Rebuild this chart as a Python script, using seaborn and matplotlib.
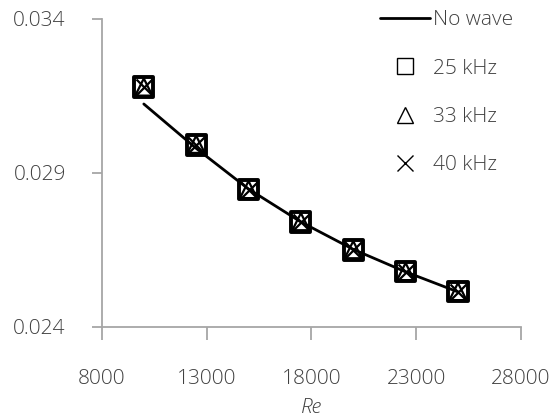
import matplotlib
matplotlib.use("Agg")
import matplotlib.pyplot as plt
from matplotlib.lines import Line2D
import seaborn as sns
import pandas as pd

# Reynolds numbers and friction factors
re_vals = [10000, 12500, 15000, 17500, 20000, 22500, 25000]
f_no_wave = [0.03124, 0.02980, 0.02848, 0.02741, 0.02652, 0.02579, 0.02514]
f_25khz = [0.03179, 0.02991, 0.02845, 0.02741, 0.02650, 0.02579, 0.02514]
f_33khz = [0.03179, 0.02993, 0.02846, 0.02742, 0.02651, 0.02580, 0.02515]
f_40khz = [0.03178, 0.02991, 0.02845, 0.02740, 0.02650, 0.02578, 0.02513]

x_ticks = [8000, 13000, 18000, 23000, 28000]
y_ticks = [0.024, 0.029, 0.034]
y_labels = ["0.024", "0.029", "0.034"]

sns.set_theme(style="white")
plt.rcParams["font.family"] = ["Open Sans", "DejaVu Sans"]

text_col = "#404040"
axis_col = "#a6a6a6"
fs = 15

fig = plt.figure(figsize=(5.57, 4.19), dpi=100)
ax = fig.add_axes([0.183, 0.2196, 0.752, 0.7351])

df_line = pd.DataFrame({"Re": re_vals, "f": f_no_wave})
sns.lineplot(data=df_line, x="Re", y="f", color="black", linewidth=2.0, ax=ax)

ms = 190
sns.scatterplot(x=re_vals, y=f_25khz, marker="s", s=ms, facecolors="none",
                edgecolor="black", linewidth=2.8, ax=ax, zorder=3)
sns.scatterplot(x=re_vals, y=f_33khz, marker="^", s=ms * 0.8, facecolors="none",
                edgecolor="black", linewidth=1.6, ax=ax, zorder=4)
sns.scatterplot(x=re_vals, y=f_40khz, marker="x", s=ms * 0.7, color="black",
                linewidth=1.6, ax=ax, zorder=5)

ax.set_xlim(8000, 28000)
ax.set_ylim(0.024, 0.034)
ax.set_xticks(x_ticks)
ax.set_xticklabels([str(v) for v in x_ticks])
ax.set_yticks(y_ticks)
ax.set_yticklabels(y_labels)

for side in ["top", "right"]:
    ax.spines[side].set_visible(False)
for side in ["left", "bottom"]:
    ax.spines[side].set_color(axis_col)
    ax.spines[side].set_linewidth(1.3)

ax.tick_params(axis="x", which="both", bottom=True, direction="out", length=9,
               width=1.3, color=axis_col, labelsize=fs, labelcolor=text_col, pad=21)
ax.tick_params(axis="y", which="both", left=True, direction="out", length=7,
               width=1.3, color=axis_col, labelsize=fs, labelcolor=text_col, pad=19)
for lbl in ax.get_xticklabels() + ax.get_yticklabels():
    lbl.set_fontweight("light")

ax.set_xlabel("Re", fontsize=fs, style="italic", color=text_col, labelpad=7,
              fontweight="light")
ax.set_ylabel("")

handles = [
    Line2D([], [], color="black", linewidth=2.0),
    Line2D([], [], linestyle="none", marker="s", markersize=12, markerfacecolor="none",
           markeredgecolor="black", markeredgewidth=1.0),
    Line2D([], [], linestyle="none", marker="^", markersize=12, markerfacecolor="none",
           markeredgecolor="black", markeredgewidth=1.0),
    Line2D([], [], linestyle="none", marker="x", markersize=12, color="black",
           markeredgewidth=1.0),
]
labels = ["No wave", "25 kHz", "33 kHz", "40 kHz"]
leg = ax.legend(handles, labels, loc="upper left", bbox_to_anchor=(0.645, 1.055),
                frameon=False, fontsize=fs, handlelength=2.4, handletextpad=0.1,
                labelspacing=1.36, borderaxespad=0)
for t in leg.get_texts():
    t.set_color(text_col)
    t.set_fontweight("light")

fig.savefig("out.png", dpi=100)
